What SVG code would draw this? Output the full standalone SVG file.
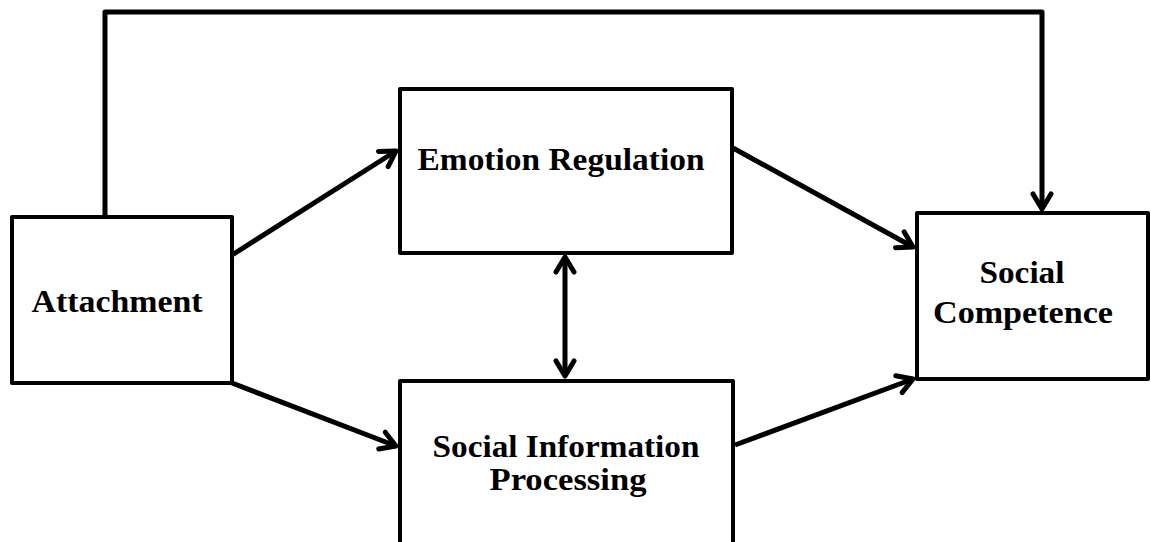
<svg xmlns="http://www.w3.org/2000/svg" width="1151" height="542" viewBox="0 0 1151 542">
<style>
.box{fill:#fff;stroke:#000;stroke-width:4;stroke-linejoin:round}
.lbl{font-family:"Liberation Serif",serif;font-weight:bold;font-size:31px;fill:#000}
.con{fill:none;stroke:#000;stroke-width:5;stroke-linejoin:round}
</style>
<defs>
<marker id="arr" markerUnits="userSpaceOnUse" markerWidth="30" markerHeight="30" viewBox="-20 -15 30 30" refX="0" refY="0" orient="auto-start-reverse">
<path d="M-15,-9 L0,0 L-15,9" fill="none" stroke="#000" stroke-width="5" stroke-linecap="round" stroke-linejoin="round"/>
</marker>
</defs>
<rect width="1151" height="542" fill="#fff"/>
<g id="connectors">
<path class="con" d="M105,217 V12 H1042 V209" marker-end="url(#arr)"/>
<line class="con" x1="232" y1="255" x2="396" y2="151" marker-end="url(#arr)"/>
<line class="con" x1="232" y1="383" x2="396" y2="446" marker-end="url(#arr)"/>
<line class="con" x1="733" y1="148" x2="913" y2="247" marker-end="url(#arr)"/>
<line class="con" x1="735" y1="445" x2="913" y2="379" marker-end="url(#arr)"/>
<line class="con" x1="565" y1="257" x2="565" y2="376" marker-start="url(#arr)" marker-end="url(#arr)"/>
</g>
<g id="attachment">
<rect class="box" x="12" y="217" width="220" height="166"/>
<text class="lbl" x="117" y="312" text-anchor="middle" textLength="171" lengthAdjust="spacingAndGlyphs">Attachment</text>
</g>
<g id="emotion-regulation">
<rect class="box" x="400" y="89" width="332" height="164"/>
<text class="lbl" x="561" y="170" text-anchor="middle" textLength="287" lengthAdjust="spacingAndGlyphs">Emotion Regulation</text>
</g>
<g id="social-information-processing">
<rect class="box" x="400" y="381" width="333" height="164"/>
<text class="lbl" x="566" y="457" text-anchor="middle" textLength="267" lengthAdjust="spacingAndGlyphs">Social Information</text>
<text class="lbl" x="568" y="490" text-anchor="middle" textLength="157" lengthAdjust="spacingAndGlyphs">Processing</text>
</g>
<g id="social-competence">
<rect class="box" x="917" y="213" width="231" height="166"/>
<text class="lbl" x="1022" y="283" text-anchor="middle" textLength="85" lengthAdjust="spacingAndGlyphs">Social</text>
<text class="lbl" x="1023" y="323" text-anchor="middle" textLength="180" lengthAdjust="spacingAndGlyphs">Competence</text>
</g>
</svg>
